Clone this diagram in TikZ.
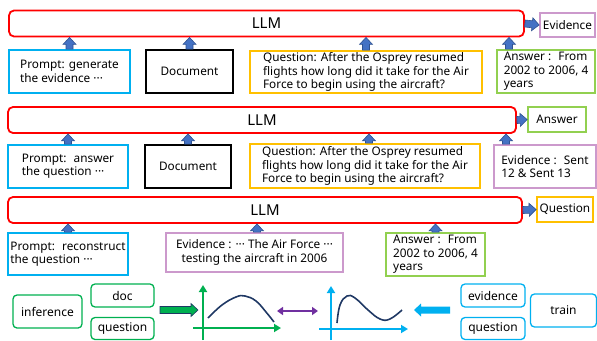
\documentclass[tikz,border=0pt]{standalone}
\usepackage{fontspec}
\setmainfont{Noto Sans}
\usepackage{tikz}
\usetikzlibrary{calc,arrows.meta}

\definecolor{llmred}{RGB}{255,0,0}
\definecolor{bxcyan}{RGB}{0,176,240}
\definecolor{bxorange}{RGB}{255,192,0}
\definecolor{bxgreen}{RGB}{146,208,80}
\definecolor{bxpink}{RGB}{204,153,204}
\definecolor{arrowblue}{RGB}{68,114,196}
\definecolor{arrowedge}{RGB}{47,82,143}
\definecolor{dkgreen}{RGB}{0,176,80}
\definecolor{curvenavy}{RGB}{31,56,100}
\definecolor{arrowpurple}{RGB}{112,48,160}

\tikzset{
  llm/.style={draw=llmred, line width=1.8pt, rounded corners=5pt,
    minimum width=#1, minimum height=26pt, font=\fontsize{15}{18}\selectfont},
  box/.style={draw=#1, line width=1.7pt, align=left, inner sep=1pt,
    font=\fontsize{11.8}{13.4}\selectfont},
  tag/.style={draw=#1, line width=1.3pt, rounded corners=4pt, inner sep=1pt,
    font=\fontsize{12}{14}\selectfont},
  fatarrow/.style={draw=arrowedge, fill=arrowblue, line width=0.6pt,
    to path={
      ($(\tikztostart)!3.5pt!90:(\tikztotarget)$) --
      ($(\tikztotarget)!7pt!(\tikztostart)!3.5pt!-90:(\tikztostart)$) --
      ($(\tikztotarget)!7pt!(\tikztostart)!6.5pt!-90:(\tikztostart)$) --
      (\tikztotarget) --
      ($(\tikztotarget)!7pt!(\tikztostart)!6.5pt!90:(\tikztostart)$) --
      ($(\tikztotarget)!7pt!(\tikztostart)!3.5pt!90:(\tikztostart)$) --
      ($(\tikztostart)!3.5pt!-90:(\tikztotarget)$) -- cycle}},
  axis/.style={line width=1.8pt, -{Triangle[length=7pt, width=8pt]}}
}

\begin{document}
\begin{tikzpicture}[x=1pt, y=-1pt]
    \useasboundingbox (0, 0) rectangle (597, 340);

    % first pass: generate the evidence
    \node[llm=515pt](llm1) at (266.5, 23.5){LLM};
    \node[box=bxpink, minimum width=55pt, minimum height=24pt](ev1) at (567.5, 25){Evidence};
    \node[box=bxcyan, minimum width=121pt, minimum height=43pt](p1) at (69.5, 71.5)
      {Prompt: generate\\the evidence ···};
    \node[box=black, line width=1.8pt, minimum width=87pt, minimum height=43pt](d1) at (189.5, 71.5){Document};
    \node[box=bxorange, minimum width=232pt, minimum height=42pt](q1) at (366, 72)
      {Question: After the Osprey resumed\\flights how long did it take for the Air\\Force to begin using the aircraft?};
    \node[box=bxgreen, minimum width=98pt, minimum height=43pt](a1) at (546, 71.5)
      {Answer :~ From\\2002 to 2006, 4\\years};
    \draw[fatarrow] (llm1.east) to (ev1.west);
    \draw[fatarrow] (p1.north) to (p1.north |- llm1.south);
    \draw[fatarrow] (d1.north) to (d1.north |- llm1.south);
    \draw[fatarrow] (q1.north) to (q1.north |- llm1.south);
    \draw[fatarrow] ([xshift=-37pt]a1.north) to ([xshift=-37pt]a1.north |- llm1.south);

    % second pass: answer the question
    \node[llm=508pt](llm2) at (262, 120){LLM};
    \node[box=bxgreen, minimum width=58pt, minimum height=25pt](an2) at (557, 119.5){Answer};
    \node[box=bxcyan, minimum width=120pt, minimum height=43pt](p2) at (68, 166.5)
      {Prompt:~ answer\\the question ···};
    \node[box=black, line width=1.8pt, minimum width=86pt, minimum height=43pt](d2) at (188, 166.5){Document};
    \node[box=bxorange, minimum width=230pt, minimum height=44pt](q2) at (365, 166)
      {Question: After the Osprey resumed\\flights how long did it take for the Air\\Force to begin using the aircraft?};
    \node[box=bxpink, minimum width=102pt, minimum height=43pt](e2) at (545, 166.5)
      {Evidence :~ Sent\\12 \& Sent 13};
    \draw[fatarrow] (llm2.east) to (an2.west);
    \draw[fatarrow] (p2.north) to (p2.north |- llm2.south);
    \draw[fatarrow] (d2.north) to (d2.north |- llm2.south);
    \draw[fatarrow] ([xshift=4pt]q2.north) to ([xshift=4pt]q2.north |- llm2.south);
    \draw[fatarrow] ([xshift=-39pt]e2.north) to ([xshift=-39pt]e2.north |- llm2.south);

    % third pass: reconstruct the question
    \node[llm=514pt](llm3) at (265, 210){LLM};
    \node[box=bxorange, minimum width=56pt, minimum height=25pt](qn3) at (565, 209.5){Question};
    \node[box=bxcyan, minimum width=120pt, minimum height=42pt](p3) at (68, 254)
      {Prompt:~ reconstruct\\the question ···};
    \node[box=bxpink, align=center, minimum width=177pt, minimum height=39pt](e3) at (254.5, 252.5)
      {Evidence : ··· The Air Force ···\\ testing the aircraft in 2006};
    \node[box=bxgreen, minimum width=99pt, minimum height=43pt](a3) at (435.5, 254.5)
      {Answer :~ From\\2002 to 2006, 4\\years};
    \draw[fatarrow] (llm3.east) to (qn3.west);
    \draw[fatarrow] (p3.north) to (p3.north |- llm3.south);
    \draw[fatarrow] ([xshift=2.5pt]e3.north) to ([xshift=2.5pt]e3.north |- llm3.south);
    \draw[fatarrow] (a3.north) to (a3.north |- llm3.south);

    % inference side
    \node[tag=dkgreen, minimum width=69pt, minimum height=33pt](inf) at (47.5, 311.5){inference};
    \node[tag=dkgreen, minimum width=63pt, minimum height=23pt](idoc) at (122.5, 295.5){doc};
    \node[tag=dkgreen, minimum width=63pt, minimum height=22pt](iq) at (122.5, 328.5){question};
    \coordinate (g1) at (160, 310);
    \coordinate (g2) at (198, 310);
    \draw[fatarrow, draw=curvenavy, fill=dkgreen] (g1) to (g2);
    \draw[axis, dkgreen] (203, 340) -- (203, 285);
    \draw[axis, dkgreen] (193, 328) -- (281, 328);
    \draw[curvenavy, line width=1.6pt] plot [smooth, tension=0.7]
      coordinates{(208, 318) (222, 305) (236, 297) (245, 296) (256, 301) (266, 312) (274, 322)};

    % both ways
    \coordinate (m1) at (277, 311);
    \coordinate (m2) at (318, 311);
    \draw[arrowpurple, line width=1.5pt, {Triangle[length=6pt, width=8pt]}-{Triangle[length=6pt, width=8pt]}] (m1) -- (m2);

    % train side
    \draw[axis, bxcyan] (331, 340) -- (331, 286);
    \draw[axis, bxcyan] (319, 329) -- (408, 329);
    \draw[curvenavy, line width=1.6pt] plot [smooth, tension=0.7]
      coordinates{(337, 323) (340, 305) (347, 296) (355, 298) (368, 310) (380, 319) (390, 319) (402, 310)};
    \coordinate (c1) at (450, 310);
    \coordinate (c2) at (414, 310);
    \draw[fatarrow, draw=none, fill=bxcyan] (c1) to (c2);
    \node[tag=bxcyan, minimum width=64pt, minimum height=23pt](tev) at (493, 295.5){evidence};
    \node[tag=bxcyan, minimum width=64pt, minimum height=22pt](tq) at (493, 328.5){question};
    \node[tag=bxcyan, minimum width=66pt, minimum height=33pt](train) at (563.5, 310.5){train};
\end{tikzpicture}
\end{document}
